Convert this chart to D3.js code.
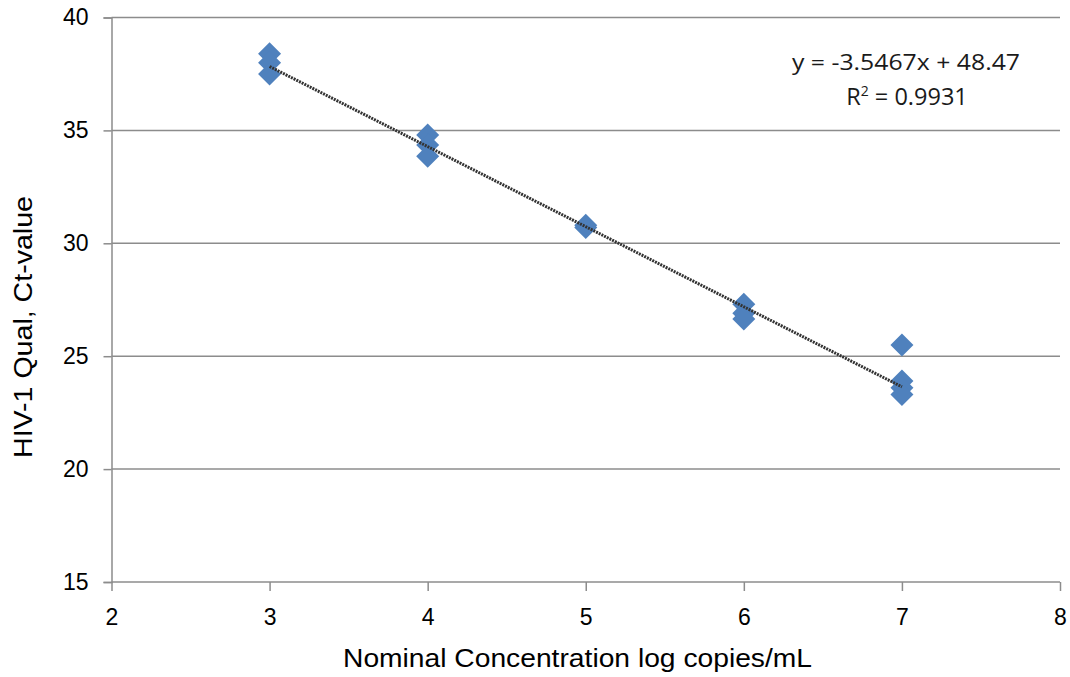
<!DOCTYPE html>
<html><head><meta charset="utf-8">
<script src="https://cdn.jsdelivr.net/npm/d3@7"></script>
<style>body{margin:0;background:#fff}svg{display:block}</style>
</head><body>
<svg id="c" width="1070" height="677"></svg>
<script>
const xVals = [3,3,3, 4,4,4, 5,5, 6,6,6, 7,7,7,7];
const yVals = [38.4,38.0,37.5, 34.8,34.35,33.85, 30.8,30.7, 27.3,26.9,26.65, 25.5,23.9,23.6,23.3];
const xTicks = [2,3,4,5,6,7,8];
const yTicks = [15,20,25,30,35,40];
const slope = -3.5467, intercept = 48.47;
const eqLabel = "y = -3.5467x + 48.47";
const r2Value = "0.9931";
const xTitle = "Nominal Concentration log copies/mL";
const yTitle = "HIV-1 Qual, Ct-value";

const svg = d3.select("#c");
const x = d3.scaleLinear().domain([2,8]).range([111.5,1060]);
const y = d3.scaleLinear().domain([15,40]).range([582,17.5]);
const grid = "#8c8c8c";
const fmt = d3.format("d");

// gridlines
svg.append("g").selectAll("line").data(yTicks.filter(d=>d>15)).join("line")
  .attr("x1",x(2)).attr("x2",x(8)).attr("y1",d=>y(d)).attr("y2",d=>y(d))
  .attr("stroke",grid).attr("stroke-width",1.5);

// y axis
const ya = svg.append("g").attr("transform",`translate(${x(2)},0)`)
  .call(d3.axisLeft(y).tickValues(yTicks).tickFormat(fmt).tickSize(8).tickPadding(15));
ya.select(".domain").attr("stroke",grid).attr("stroke-width",1.5);
ya.selectAll(".tick line").attr("stroke",grid).attr("stroke-width",1.5);
ya.selectAll("text").attr("font-family","Liberation Sans, Arial").attr("font-size",23).attr("fill","#000");

// x axis
const xa = svg.append("g").attr("transform",`translate(0,${y(15)})`)
  .call(d3.axisBottom(x).tickValues(xTicks).tickFormat(fmt).tickSize(9).tickPadding(18));
xa.select(".domain").attr("stroke",grid).attr("stroke-width",1.5).attr("d",`M${x(2)},0H${x(8)}`);
xa.selectAll(".tick line").attr("stroke",grid).attr("stroke-width",1.5);
xa.selectAll("text").attr("font-family","Liberation Sans, Arial").attr("font-size",23).attr("fill","#000");

// points
const pts = xVals.map((v,i)=>({x:v,y:yVals[i]}));
const s = 11.5;
svg.append("g").selectAll("path").data(pts).join("path")
  .attr("d",d=>{const cx=x(d.x), cy=y(d.y); return `M${cx},${cy-s}L${cx+s},${cy}L${cx},${cy+s}L${cx-s},${cy}Z`;})
  .attr("fill","#4F81BD");

// trendline
svg.append("line")
  .attr("x1",x(3)).attr("y1",y(slope*3+intercept))
  .attr("x2",x(7)).attr("y2",y(slope*7+intercept))
  .attr("stroke","#333").attr("stroke-width",3).attr("stroke-dasharray","2,1");

// equation
svg.append("text").attr("x",906).attr("y",70).attr("text-anchor","middle")
  .attr("font-family","Open Sans, Liberation Sans").attr("font-size",22).attr("fill","#1a1a1a")
  .attr("textLength",228).attr("lengthAdjust","spacingAndGlyphs")
  .text(eqLabel);
const r = svg.append("text").attr("x",907).attr("y",105).attr("text-anchor","middle")
  .attr("font-family","Open Sans, Liberation Sans").attr("font-size",23.5).attr("fill","#1a1a1a");
r.append("tspan").text("R");
r.append("tspan").attr("font-size",14).attr("dy",-9).text("2");
r.append("tspan").attr("dy",9).text(" = " + r2Value);

// titles
svg.append("text").attr("x",577.5).attr("y",667).attr("text-anchor","middle")
  .attr("font-family","Liberation Sans, Arial").attr("font-size",25).attr("fill","#000")
  .attr("textLength",469).attr("lengthAdjust","spacingAndGlyphs").text(xTitle);
svg.append("text").attr("transform","translate(32,327) rotate(-90)").attr("text-anchor","middle")
  .attr("font-family","Liberation Sans, Arial").attr("font-size",26).attr("fill","#000")
  .attr("textLength",262).attr("lengthAdjust","spacingAndGlyphs").text(yTitle);
</script>
</body></html>
